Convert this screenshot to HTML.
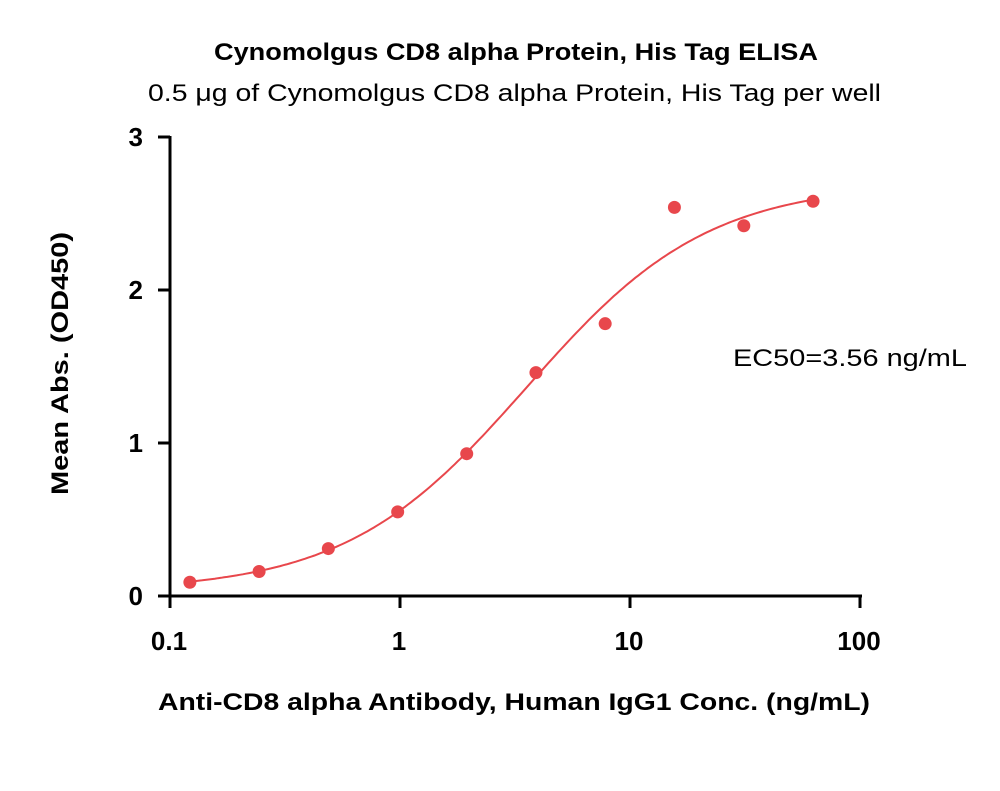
<!DOCTYPE html>
<html><head><meta charset="utf-8"><style>
body{margin:0;background:#fff;}
svg{display:block;font-family:"Liberation Sans",sans-serif;}
</style></head><body>
<svg id="chart" width="1000" height="791" viewBox="0 0 1000 791">
<text x="214" y="60" font-size="24" font-weight="bold" textLength="604" lengthAdjust="spacingAndGlyphs">Cynomolgus CD8 alpha Protein, His Tag ELISA</text>
<text x="148" y="101" font-size="24" textLength="733" lengthAdjust="spacingAndGlyphs">0.5 μg of Cynomolgus CD8 alpha Protein, His Tag per well</text>
<text x="158" y="710" font-size="24" font-weight="bold" textLength="712" lengthAdjust="spacingAndGlyphs">Anti-CD8 alpha Antibody, Human IgG1 Conc. (ng/mL)</text>
<text transform="translate(68,495) rotate(-90)" font-size="24" font-weight="bold" textLength="263" lengthAdjust="spacingAndGlyphs">Mean Abs. (OD450)</text>
<text x="733" y="366" font-size="24" textLength="234" lengthAdjust="spacingAndGlyphs">EC50=3.56 ng/mL</text>
<g id="axes"></g><g id="curve"></g><g id="points"></g>
</svg>
<script>
const concs=[0.122,0.244,0.488,0.977,1.95,3.9,7.8,15.6,31.25,62.5];
const absVals=[0.09,0.16,0.31,0.55,0.93,1.46,1.78,2.54,2.42,2.58];
const xTicks=[0.1,1,10,100];
const xTickLabels=["0.1","1","10","100"];
const yTicks=[0,1,2,3];
const yTickLabels=["0","1","2","3"];
const fitBottom=0.03, fitTop=2.7, fitEC50=3.56, fitHill=1.1;
const NS="http://www.w3.org/2000/svg";
const X0=170,X1=860,Y0=596,Y1=137;
function xs(v){return X0+(Math.log10(v)+1)/3*(X1-X0);}
function ys(v){return Y0-v/3*(Y0-Y1);}
function mk(t,a,p){const e=document.createElementNS(NS,t);for(const k in a)e.setAttribute(k,a[k]);p.appendChild(e);return e;}
const ax=document.getElementById('axes');
let l=mk('line',{x1:168,y1:Y0,x2:862,y2:Y0,stroke:'#000','stroke-width':3},ax);


l=mk('line',{x1:X0,y1:Y1-1,x2:X0,y2:Y0+1,stroke:'#000','stroke-width':3},ax);


xTicks.forEach((v,i)=>{
 const t=mk('line',{x1:xs(v),y1:Y0,x2:xs(v),y2:Y0+12,stroke:'#000','stroke-width':3},ax);
 
 
 const tx=mk('text',{x:xs(v)-1,y:650,'text-anchor':'middle','font-size':26,'font-weight':'bold'},ax);
 tx.textContent=xTickLabels[i];
 
 
});
yTicks.forEach((v,i)=>{
 const t=mk('line',{x1:X0-12,y1:ys(v),x2:X0,y2:ys(v),stroke:'#000','stroke-width':3},ax);
 
 
 const tx=mk('text',{x:143,y:ys(v)+9,'text-anchor':'end','font-size':26,'font-weight':'bold'},ax);
 tx.textContent=yTickLabels[i];
 
 
});
let d='';
for(let i=0;i<=200;i++){
 const lx=Math.log10(concs[0])+(Math.log10(concs[concs.length-1])-Math.log10(concs[0]))*i/200;
 const c=Math.pow(10,lx);
 const y=fitBottom+(fitTop-fitBottom)/(1+Math.pow(fitEC50/c,fitHill));
 d+=(i?'L':'M')+xs(c).toFixed(1)+','+ys(y).toFixed(1);
}
const p=mk('path',{d:d,fill:'none',stroke:'#e8474c','stroke-width':2},document.getElementById('curve'));


concs.forEach((c,i)=>{
 const pt=mk('circle',{cx:xs(c),cy:ys(absVals[i]),r:6.5,fill:'#e8474c'},document.getElementById('points'));
 
 
});
</script>
</body></html>
